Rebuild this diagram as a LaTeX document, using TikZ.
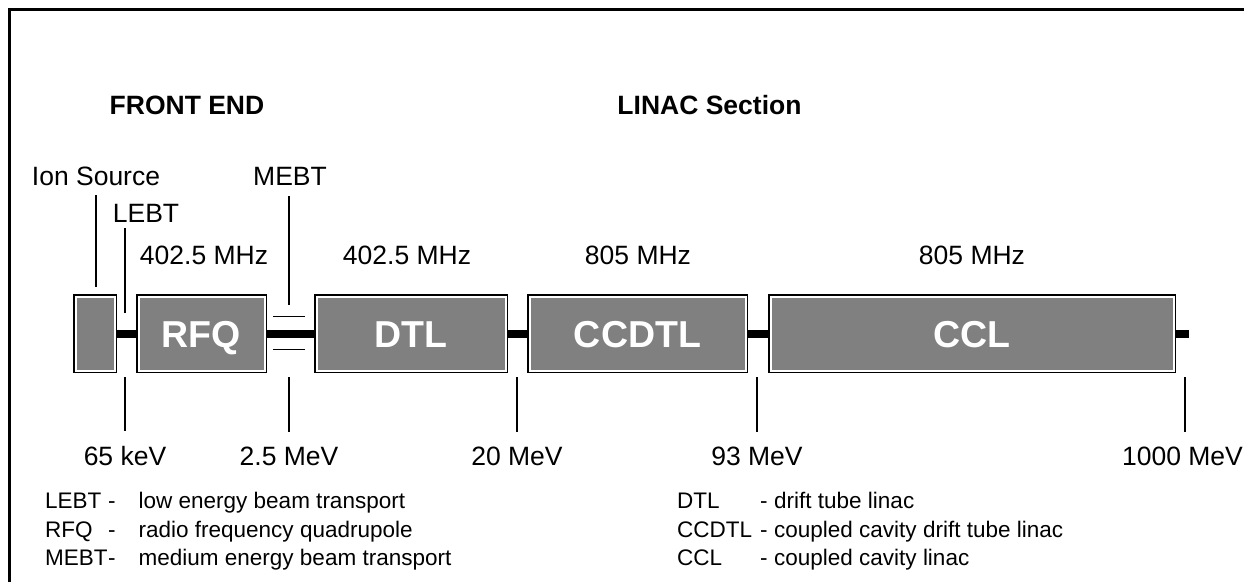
\documentclass[tikz,border=0pt]{standalone}
\usepackage{fontspec}
\setmainfont{Liberation Sans}
\definecolor{stagegray}{RGB}{128,128,128}
\pgfdeclarelayer{background}
\pgfsetlayers{background,main}

\begin{document}
\begin{tikzpicture}[
  x=1pt,y=-1pt,
  stage/.style={fill=stagegray,draw=white,line width=2pt,preaction={draw=black,line width=5pt},
    minimum height=74pt,inner sep=0pt,outer sep=0pt,text height=27pt,text depth=0pt,
    text=white,font=\fontsize{37.5}{40}\selectfont\bfseries},
  lbl/.style={anchor=base,inner sep=0pt,font=\fontsize{26.5}{30}\selectfont},
  head/.style={anchor=base,inner sep=0pt,font=\fontsize{26.5}{30}\selectfont\bfseries},
  key/.style={anchor=base west,inner sep=0pt,font=\fontsize{22.5}{26}\selectfont},
  tick/.style={line width=1.3pt},
  beam/.style={line width=8pt},
  frame/.style={line width=3pt}
]
  \useasboundingbox (0,0) rectangle (1244,582);
  \draw[frame] (9,582) -- (9,9.5) -- (1244,9.5);

  \node[head] (front) at (187,114) {FRONT END};
  \node[head] (linac) at (709.5,114) {LINAC Section};

  % accelerator stages
  \node[stage,minimum width=39pt] (ion) at (95,333.5) {};
  \node[stage,minimum width=126pt] (rfq) at (201.5,333.5) {RFQ};
  \node[stage,minimum width=189pt] (dtl) at (411,333.5) {DTL};
  \node[stage,minimum width=216pt] (ccdtl) at (637.5,333.5) {CCDTL};
  \node[stage,minimum width=403pt] (ccl) at (972,333.5) {CCL};

  \coordinate (lebt) at (125,333.5);
  \coordinate (mebt) at (289,333.5);
  \coordinate (beamend) at (1189,333.5);
  \begin{pgfonlayer}{background}
    \draw[beam] (ion.center) -- (beamend);
  \end{pgfonlayer}
  \draw[tick] ([xshift=-16pt,yshift=17pt]mebt) -- ([xshift=16pt,yshift=17pt]mebt);
  \draw[tick] ([xshift=-16pt,yshift=-16pt]mebt) -- ([xshift=16pt,yshift=-16pt]mebt);

  % names and frequencies
  \node[lbl] (ionlbl) at (96,185) {Ion Source};
  \node[lbl] (mebtlbl) at (290,185) {MEBT};
  \node[lbl] (lebtlbl) at (146,222) {LEBT};
  \node[lbl] (frfq) at (204,264) {402.5 MHz};
  \node[lbl] (fdtl) at (407,264) {402.5 MHz};
  \node[lbl] (fccdtl) at (638,264) {805 MHz};
  \node[lbl] (fccl) at (972,264) {805 MHz};

  \draw[tick,shorten <=10pt,shorten >=9.5pt] (ionlbl.south) -- (ionlbl.south |- ion.north);
  \draw[tick,shorten <=6pt,shorten >=20.5pt] (lebt |- lebtlbl.south) -- (lebt);
  \draw[tick,shorten <=11pt,shorten >=28.5pt] (mebt |- mebtlbl.south) -- (mebt);

  % energies
  \node[lbl] (e65) at (125,465) {65 keV};
  \node[lbl] (e25) at (289,465) {2.5 MeV};
  \node[lbl] (e20) at (517,465) {20 MeV};
  \node[lbl] (e93) at (757,465) {93 MeV};
  \node[lbl] (e1000) at (1182.5,465) {1000 MeV};
  \foreach \e in {e65,e25,e20,e93}
    \draw[tick,shorten <=6.5pt,shorten >=14.5pt] (\e |- ion.south) -- (\e.north);
  \draw[tick,shorten <=6.5pt,shorten >=14.5pt] ([xshift=2.5pt]e1000 |- ion.south) -- ([xshift=2.5pt]e1000.north);

  % legend
  \foreach \abbr/\desc/\y in {LEBT/low energy beam transport/508,
      RFQ/radio frequency quadrupole/537,MEBT/medium energy beam transport/565}{
    \node[key] (k\abbr) at (45,\y) {\abbr};
    \node[key] (d\abbr) at (108,\y) {-};
    \node[key] (t\abbr) at (138.5,\y) {\desc};
  }
  \foreach \abbr/\desc/\y in {DTL/drift tube linac/508,
      CCDTL/coupled cavity drift tube linac/537,CCL/coupled cavity linac/565}{
    \node[key] (k\abbr) at (677,\y) {\abbr};
    \node[key] (d\abbr) at (760,\y) {-};
    \node[key] (t\abbr) at (774,\y) {\desc};
  }
\end{tikzpicture}
\end{document}
